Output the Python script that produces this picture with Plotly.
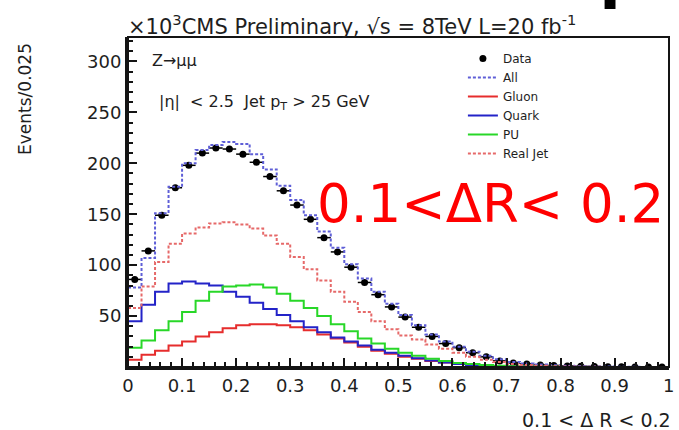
import numpy as np
import plotly.graph_objects as go

# ---- data (Events per 0.025 bin, in units of 10^3) ----
bin_edges = [round(0.025 * i, 3) for i in range(41)]
data_vals = [86, 114, 149, 176, 198, 210, 215, 214, 209, 201, 187, 173, 159, 145, 127, 113, 98, 83, 71, 59,
             49, 39, 30, 23, 19, 14, 10, 6, 4, 3, 2, 1.5, 1, 0.7, 0.5, 0.3, 0.2, 0.1, 0.1, 0.1]
all_vals = [78, 107, 151, 177, 200, 213, 218, 221, 219, 209, 194, 178, 164, 149, 133, 117, 101, 87, 74, 62,
            51, 41, 32, 25, 20, 15, 11, 7.5, 5, 3.5, 2.5, 1.8, 1.2, 0.8, 0.6, 0.4, 0.3, 0.2, 0.1, 0.1]
gluon_vals = [7, 12, 16, 21, 25, 30, 34, 38, 41, 42, 42, 41, 39, 36, 32, 28, 24, 20, 16, 13,
              10, 8, 6, 4.5, 3, 2, 1.5, 1, 0.6, 0.4, 0.3, 0.2, 0.1, 0.1, 0, 0, 0, 0, 0, 0]
quark_vals = [45, 61, 74, 82, 84, 82, 80, 74, 69, 63, 57, 51, 45, 39, 34, 29, 25, 21, 17, 14,
              11, 8.5, 6.5, 4.5, 3, 2, 1.5, 1, 0.6, 0.4, 0.3, 0.2, 0.1, 0.1, 0, 0, 0, 0, 0, 0]
pu_vals = [19, 26, 36, 45, 54, 65, 74, 79, 80, 81, 78, 72, 65, 58, 50, 42, 35, 28, 23, 18,
           14, 11, 8, 6, 4, 3, 2, 1.3, 0.8, 0.5, 0.3, 0.2, 0.1, 0.1, 0, 0, 0, 0, 0, 0]
realjet_vals = [58, 79, 103, 121, 131, 137, 141, 142, 140, 136, 129, 121, 108, 96, 85, 74, 64, 54, 45, 37,
                31, 27, 22, 18, 14, 10, 7, 5, 3, 2, 1.3, 0.8, 0.5, 0.3, 0.2, 0.1, 0, 0, 0, 0]

x_ticks = [0, 0.1, 0.2, 0.3, 0.4, 0.5, 0.6, 0.7, 0.8, 0.9, 1]
x_ticklabels = ["0", "0.1", "0.2", "0.3", "0.4", "0.5", "0.6", "0.7", "0.8", "0.9", "1"]
y_ticks = [50, 100, 150, 200, 250, 300]

FONT = "DejaVu Sans"

edges = np.array(bin_edges)
centers = (edges[:-1] + edges[1:]) / 2
half_w = (edges[1:] - edges[:-1]) / 2


def step(vals):
    return list(edges), list(vals) + [vals[-1]]


fig = go.Figure()

fig.add_trace(go.Scatter(
    x=centers, y=data_vals, mode="markers", name="Data",
    marker=dict(color="black", size=7),
    error_x=dict(type="data", array=half_w, color="black", thickness=1.5, width=0),
))

series = [
    ("All", all_vals, "rgb(95,95,215)", "3px,2px"),
    ("Gluon", gluon_vals, "rgb(230,45,45)", "solid"),
    ("Quark", quark_vals, "rgb(35,35,200)", "solid"),
    ("PU", pu_vals, "rgb(40,215,40)", "solid"),
    ("Real Jet", realjet_vals, "rgb(230,105,105)", "3px,2px"),
]
for name, vals, col, dash in series:
    xs, ys = step(vals)
    fig.add_trace(go.Scatter(x=xs, y=ys, mode="lines", name=name, line_shape="hv",
                             line=dict(color=col, width=2, dash=dash)))

L, R, T, B = 128, 5, 37, 63
W, H = 679, 430
pw, ph = W - L - R, H - T - B


def px(xp):
    return (xp - L) / pw


def py(yp):
    return (H - B - yp) / ph


annotations = [
    dict(text="×10<sup>3</sup>CMS Preliminary, √s = 8TeV L=20 fb<sup>-1</sup>",
         x=px(126), y=py(25), xanchor="left", yanchor="middle", font=dict(size=21)),
    dict(text="Events/0.025", textangle=-90, x=px(24), y=py(99),
         xanchor="center", yanchor="middle", font=dict(size=17)),
    dict(text="Z→μμ", x=px(150), y=py(60), xanchor="left", yanchor="middle", font=dict(size=16)),
    dict(text="|η|  &lt; 2.5  Jet p<sub>T</sub> &gt; 25 GeV", x=px(157), y=py(103),
         xanchor="left", yanchor="middle", font=dict(size=16)),
    dict(text="0.1<ΔR< 0.2", x=px(317), y=py(203), xanchor="left", yanchor="middle",
         font=dict(size=53, color="red")),
    dict(text="0.1 &lt; Δ R &lt; 0.2", x=px(678), y=py(420), xanchor="right", yanchor="middle",
         font=dict(size=19)),
]
for a in annotations:
    a.update(xref="paper", yref="paper", showarrow=False)
    a.setdefault("font", {})
    a["font"].setdefault("color", "rgb(30,30,30)")
    a["font"]["family"] = FONT

shapes = [
    dict(type="rect", xref="paper", yref="paper", x0=0, x1=1, y0=0, y1=1,
         line=dict(color="rgb(20,20,20)", width=2)),
    dict(type="rect", xref="paper", yref="paper", x0=px(609), x1=px(620), y0=py(9), y1=py(0),
         fillcolor="black", line=dict(width=0)),
]

fig.update_layout(
    width=W, height=H,
    margin=dict(l=L, r=R, t=T, b=B),
    paper_bgcolor="white", plot_bgcolor="white",
    font=dict(family=FONT, size=18, color="rgb(30,30,30)"),
    showlegend=True,
    legend=dict(x=px(466), y=py(44), xanchor="left", yanchor="top",
                font=dict(family=FONT, size=12, color="rgb(30,30,30)"),
                bgcolor="rgba(0,0,0,0)", itemwidth=30, tracegroupgap=0),
    annotations=annotations,
    shapes=shapes,
    xaxis=dict(range=[0, 1.0005], tickvals=x_ticks, ticktext=x_ticklabels,
               ticks="inside", ticklen=9, tickwidth=2, tickcolor="rgb(20,20,20)",
               minor=dict(dtick=0.02, ticks="inside", ticklen=5, tickwidth=1.5, tickcolor="rgb(20,20,20)"),
               showline=True, linewidth=3, linecolor="rgb(20,20,20)", mirror=False,
               showgrid=False, zeroline=False, tickfont=dict(size=18),
               ticklabeloverflow="allow"),
    yaxis=dict(range=[0, 324], tickvals=y_ticks,
               ticks="inside", ticklen=9, tickwidth=2, tickcolor="rgb(20,20,20)",
               minor=dict(dtick=10, ticks="inside", ticklen=5, tickwidth=1.5, tickcolor="rgb(20,20,20)"),
               showline=True, linewidth=3, linecolor="rgb(20,20,20)", mirror=False,
               showgrid=False, zeroline=False, tickfont=dict(size=18)),
)

fig.write_html("out.html")
